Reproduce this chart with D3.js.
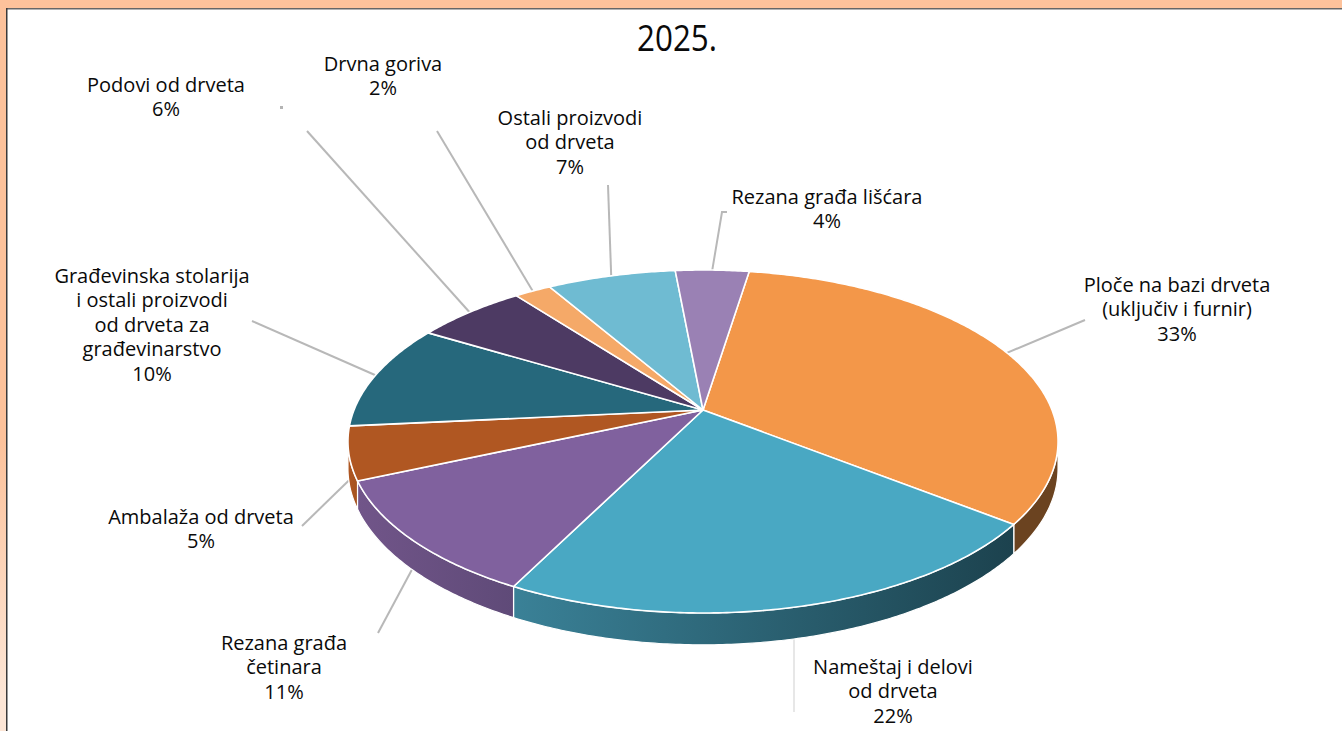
<!DOCTYPE html>
<html>
<head>
<meta charset="utf-8">
<script src="https://cdnjs.cloudflare.com/ajax/libs/d3/7.8.5/d3.min.js"></script>
<style>
html,body{margin:0;padding:0;background:#fff;overflow:hidden}
svg{display:block}
text{font-family:"Open Sans",sans-serif;fill:#0a0a0a}
</style>
</head>
<body>
<div id="chart"></div>
<script>
// Wood-product export structure, 2025 (share in percent)
const chartTitle = "2025.";
const labelLines = [
  ["Ploče na bazi drveta", "(uključiv i furnir)"],
  ["Nameštaj i delovi", "od drveta"],
  ["Rezana građa", "četinara"],
  ["Ambalaža od drveta"],
  ["Građevinska stolarija", "i ostali proizvodi", "od drveta za", "građevinarstvo"],
  ["Podovi od drveta"],
  ["Drvna goriva"],
  ["Ostali proizvodi", "od drveta"],
  ["Rezana građa lišćara"]
];
const shares = [33, 22, 11, 5, 10, 6, 2, 7, 4];

const topColors = ["#f39749", "#49a8c3", "#80619e", "#b05722", "#26687c", "#4d3a63", "#f5a968", "#6fbbd2", "#9a81b4"];
const wallLeft  = ["#6b4320", "#3a8197", "#715589", "#b05722", "#26687c", "#4d3a63", "#f5a968", "#6fbbd2", "#9a81b4"];
const wallRight = ["#6b4320", "#1c424e", "#5f4a78", "#a5531f", "#26687c", "#4d3a63", "#f5a968", "#6fbbd2", "#9a81b4"];

// Label anchor: centre x and centre y of the first text line
const labelX = [1177, 893, 284, 201, 152, 166, 383, 570, 827];
const labelY = [285, 667, 643, 517, 276, 85, 64, 118, 197];
// Far end of each leader line
const leaderEnds = [[1085, 320], [794, 712], [378, 633], [302, 526], [252, 321], [307, 131], [437, 131], [608, 185], [722, 212]];

const width = 1342, height = 731;
const svg = d3.select("#chart").append("svg").attr("width", width).attr("height", height);
const defs = svg.append("defs");

// Page frame
const strip = defs.append("linearGradient").attr("id", "strip").attr("x1", 0).attr("x2", 0).attr("y1", 0).attr("y2", 1);
strip.append("stop").attr("offset", 0.6).attr("stop-color", "#fdc29b");
strip.append("stop").attr("offset", 0.95).attr("stop-color", "#fde6d6");
svg.append("rect").attr("width", width).attr("height", height).attr("fill", "#fff");
svg.append("rect").attr("width", width).attr("height", 8).attr("fill", "#fdc29b");
svg.append("rect").attr("width", 6).attr("height", height).attr("fill", "url(#strip)");
svg.append("rect").attr("x", 6).attr("y", 8).attr("width", width - 6).attr("height", 1.5).attr("fill", "#666");
svg.append("rect").attr("x", 6).attr("y", 8).attr("width", 1.5).attr("height", height).attr("fill", "#3a3a3a");

// Tilted disc: a unit circle seen in perspective, nearer side larger
const cx = 703, cy = 410, A = 349, B = 165.7, k = 0.1837, depth = 26;
const project = (angle, drop = false) => {
  // angle is clockwise from the top of the disc, as d3.pie reports it
  const u = Math.sin(angle), v = -Math.cos(angle), w = 1 - k * v;
  return [cx + A * u / w, cy + (B * v + (drop ? depth : 0)) / w];
};

const startAngle = (90 - 81) * Math.PI / 180;
const arcs = d3.pie().sort(null).startAngle(startAngle).endAngle(startAngle + 2 * Math.PI)(shares);

const rimPoints = (a0, a1, drop) => {
  const n = Math.max(2, Math.ceil(Math.abs(a1 - a0) / 0.01));
  return d3.range(n + 1).map(i => project(a0 + (a1 - a0) * i / n, drop));
};
const line = d3.line();

// Leader lines run underneath the disc and start at each slice's mid angle
const midAngle = d => (d.startAngle + d.endAngle) / 2;
const rightEdge = Math.PI / 2 + Math.asin(k), leftEdge = 3 * Math.PI / 2 - Math.asin(k);
const onWall = a => { const t = a % (2 * Math.PI); return t > rightEdge && t < leftEdge; };
const leaders = svg.append("g").attr("fill", "none");
arcs.forEach((d, i) => {
  const m = midAngle(d);
  const from = project(m, onWall(m));
  const end = leaderEnds[i];
  // The longest slice's leader drops straight down; the last one ends in a short elbow
  const pts = i === 1 ? [[end[0], from[1]], end] : [from, end];
  if (i === arcs.length - 1) pts.push([end[0] + 5, end[1]]);
  leaders.append("path").attr("d", line(pts))
    .attr("stroke-width", i === 1 ? 1 : 2)
    .attr("stroke", i === 1 ? "#cfcfcf" : "#b8b8b8");
});
svg.append("rect").attr("x", 280).attr("y", 106).attr("width", 3).attr("height", 3).attr("fill", "#b4b4b4");

// Side wall of the disc, only where it faces the viewer
arcs.forEach((d, i) => {
  const a0 = Math.max(d.startAngle, rightEdge), a1 = Math.min(d.endAngle, leftEdge);
  if (a1 <= a0) return;
  const g = defs.append("linearGradient").attr("id", "wall" + i);
  g.append("stop").attr("offset", 0).attr("stop-color", wallLeft[i]);
  g.append("stop").attr("offset", 1).attr("stop-color", wallRight[i]);
  const pts = rimPoints(a0, a1, false).concat(rimPoints(a1, a0, true));
  svg.append("path").attr("d", line(pts) + "Z").attr("fill", `url(#wall${i})`)
    .attr("stroke", "#fff").attr("stroke-width", 1.2).attr("stroke-linejoin", "round");
});

// Top face of the disc
svg.append("g").selectAll("path").data(arcs).join("path")
  .attr("d", d => line([[cx, cy]].concat(rimPoints(d.startAngle, d.endAngle, false))) + "Z")
  .attr("fill", (d, i) => topColors[i])
  .attr("stroke", "#fff").attr("stroke-width", 1.6).attr("stroke-linejoin", "round");

// Title
svg.append("text").attr("x", 677).attr("y", 51).attr("text-anchor", "middle")
  .attr("font-size", 36).attr("textLength", 80).attr("lengthAdjust", "spacingAndGlyphs").text(chartTitle);

// Category labels with their shares
const lineGap = 24.4;
labelLines.forEach((lines, i) => {
  const t = svg.append("text").attr("text-anchor", "middle").attr("font-size", 20);
  lines.concat([shares[i] + "%"]).forEach((s, j) => {
    t.append("tspan").attr("x", labelX[i]).attr("y", labelY[i] + 7 + j * lineGap).text(s);
  });
});
</script>
</body>
</html>
